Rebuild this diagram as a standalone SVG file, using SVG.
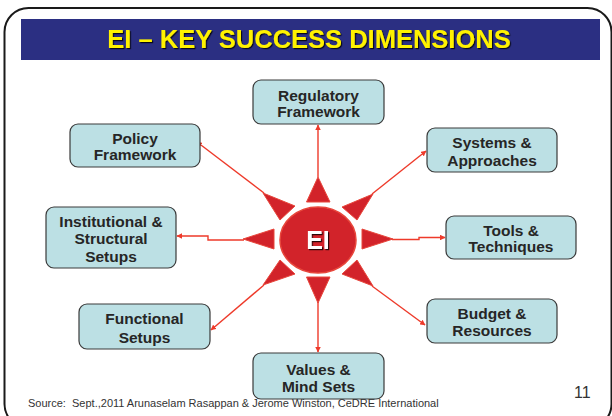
<svg xmlns="http://www.w3.org/2000/svg" width="612" height="416" viewBox="0 0 612 416">
<defs>
<style>
.box{fill:#BCE0E4;stroke:#3a3a3a;stroke-width:1.2}
.lbl{font-family:"Liberation Sans",Arial,sans-serif;font-weight:bold;font-size:15.5px;fill:#262626;text-anchor:middle}
.con{fill:none;stroke:#EE3A2A;stroke-width:1.4;marker-end:url(#ah)}
.ray{fill:#D2232A;stroke:#E8463B;stroke-width:1}
</style>
<marker id="ah" viewBox="0 0 10 10" refX="9" refY="5" markerWidth="4" markerHeight="4" orient="auto" markerUnits="strokeWidth">
<path d="M0,0 L10,5 L0,10 z" fill="#EE3A2A"/>
</marker>
<filter id="sh" x="-10%" y="-10%" width="120%" height="130%">
<feDropShadow dx="1.2" dy="1.2" stdDeviation="0.6" flood-color="#000" flood-opacity="0.8"/>
</filter>
</defs>
<rect x="0" y="0" width="612" height="416" fill="#fff"/>
<rect x="4.5" y="8" width="607" height="420" rx="24" fill="none" stroke="#1a1a1a" stroke-width="2"/>
<rect x="21" y="19" width="579" height="41" fill="#2B2F82"/>
<text x="309" y="48" font-family="'Liberation Sans',Arial,sans-serif" font-weight="bold" font-size="25.5" fill="#FFF200" text-anchor="middle" filter="url(#sh)">EI – KEY SUCCESS DIMENSIONS</text>

<g id="connectors">
<line class="con" x1="318" y1="177" x2="318" y2="125"/>
<line class="con" x1="318" y1="302" x2="318" y2="352"/>
<line class="con" x1="264" y1="193" x2="197" y2="142"/>
<line class="con" x1="372" y1="194" x2="426" y2="151"/>
<polyline class="con" points="244,240 208,240 208,236 177,236"/>
<polyline class="con" points="392,239.5 419,239.5 419,237.5 445,237.5"/>
<line class="con" x1="264" y1="285" x2="211" y2="330"/>
<line class="con" x1="372" y1="286" x2="425" y2="325"/>
</g>

<g id="EI">
<polygon class="ray" points="318,177 306.5,202 330,202"/>
<polygon class="ray" points="318,303 306.5,277 330,277"/>
<polygon class="ray" points="243,239 274,229 274,249"/>
<polygon class="ray" points="393,239 362,229 362,249"/>
<polygon class="ray" points="263,193 280,220 295,206"/>
<polygon class="ray" points="373,194 342,207 357,220"/>
<polygon class="ray" points="263,285 280,260 295,274"/>
<polygon class="ray" points="373,286 342,274 357,260"/>
<ellipse cx="318" cy="240" rx="38" ry="33" fill="#D2232A" stroke="#E8463B" stroke-width="1.5"/>
<text x="318" y="249" font-family="'Liberation Sans',Arial,sans-serif" font-weight="bold" font-size="25" fill="#fff" text-anchor="middle" filter="url(#sh)">EI</text>
</g>

<g id="regulatory">
<rect class="box" x="253" y="80" width="131" height="44" rx="8"/>
<text class="lbl" x="318.5" y="100.5">Regulatory</text>
<text class="lbl" x="318.5" y="117">Framework</text>
</g>
<g id="policy">
<rect class="box" x="70" y="124" width="130" height="43" rx="8"/>
<text class="lbl" x="135" y="143.5">Policy</text>
<text class="lbl" x="135" y="159.5">Framework</text>
</g>
<g id="systems">
<rect class="box" x="427" y="128" width="130" height="44" rx="8"/>
<text class="lbl" x="492" y="148">Systems &amp;</text>
<text class="lbl" x="492" y="165.5">Approaches</text>
</g>
<g id="institutional">
<rect class="box" x="46" y="207" width="130" height="61" rx="8"/>
<text class="lbl" x="111" y="226.5">Institutional &amp;</text>
<text class="lbl" x="111" y="243.5">Structural</text>
<text class="lbl" x="111" y="261.5">Setups</text>
</g>
<g id="tools">
<rect class="box" x="446" y="216" width="130" height="43" rx="8"/>
<text class="lbl" x="511" y="235.5">Tools &amp;</text>
<text class="lbl" x="511" y="252">Techniques</text>
</g>
<g id="functional">
<rect class="box" x="79" y="304" width="131" height="45" rx="8"/>
<text class="lbl" x="144.5" y="323.5">Functional</text>
<text class="lbl" x="144.5" y="342.5">Setups</text>
</g>
<g id="budget">
<rect class="box" x="427" y="299" width="130" height="44" rx="8"/>
<text class="lbl" x="492" y="318.5">Budget &amp;</text>
<text class="lbl" x="492" y="335.5">Resources</text>
</g>
<g id="values">
<rect class="box" x="253" y="353" width="131" height="46" rx="8"/>
<text class="lbl" x="318.5" y="374.5">Values &amp;</text>
<text class="lbl" x="318.5" y="391.5">Mind Sets</text>
</g>

<text x="28" y="407" font-family="'Liberation Sans',Arial,sans-serif" font-size="11" fill="#333" xml:space="preserve">Source:  Sept.,2011 Arunaselam Rasappan &amp; Jerome Winston, CeDRE International</text>
<text x="574" y="398" font-family="'Liberation Sans',Arial,sans-serif" font-size="16" fill="#333">11</text>
</svg>
